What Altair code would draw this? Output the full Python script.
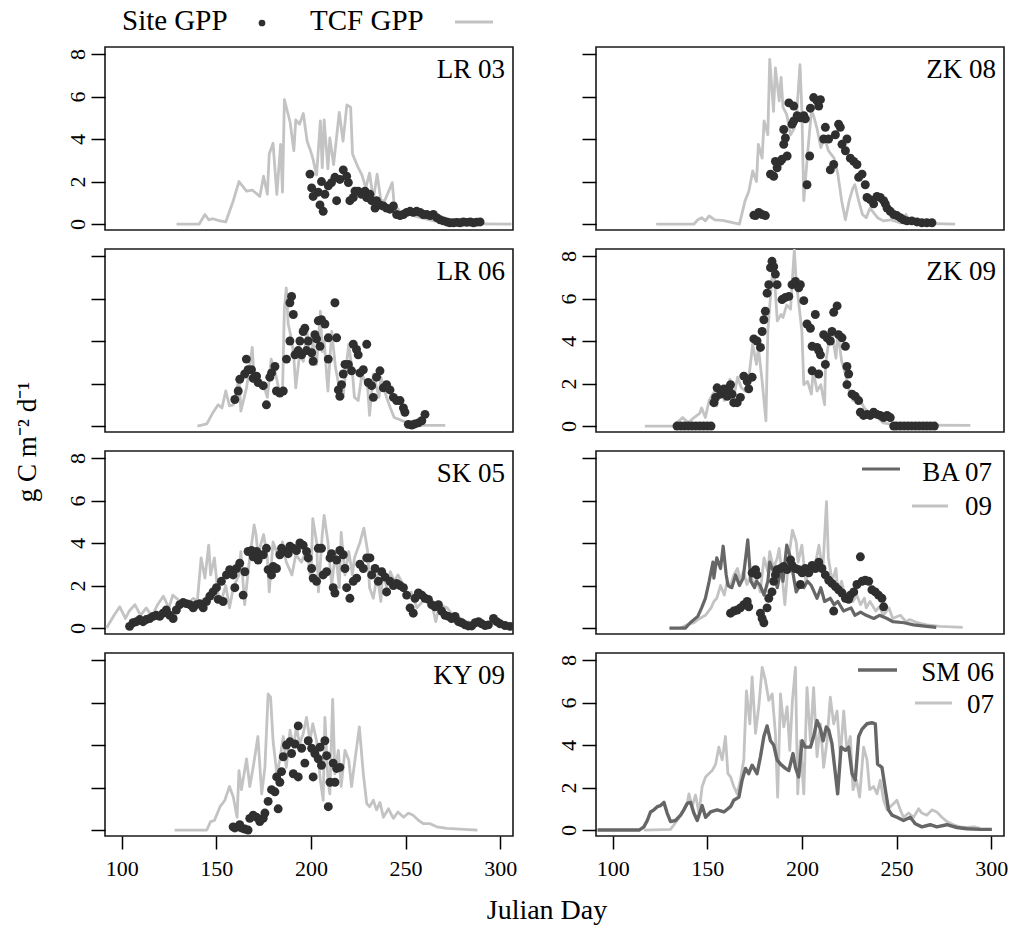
import altair as alt
import pandas as pd

FONT = "Liberation Serif"
W, H = 408, 183
XDOM = [91.2, 306.8]
YDOM = [-0.28, 8.33]
TCF_COLOR = "#c3c3c3"
DARK_LINE = "#666666"
PT_COLOR = "#2f2f2f"

# ---------------- data ----------------
LR03_TCF_DAY = [129,141,144,146,148,152,155,159,162,166,169,173,175,177,178,180,182,184,185,186,189,191,192,194,196,198,200,201,203,205,206,207,209,210,212,215,217,219,221,222,225,227,229,231,233,235,237,239,243,244,247,252,258,265,274,306]
LR03_TCF_GPP = [0,0,0.45,0.2,0.25,0.15,0.1,1.1,2.0,1.55,1.6,1.3,2.25,1.4,3.3,3.8,1.4,3.75,1.5,5.85,4.8,3.45,4.9,4.7,5.2,3.9,3.4,3.1,2.3,4.85,2.65,4.9,2.6,4.05,2.8,5.25,3.9,5.6,5.5,3.3,2.65,2.3,1.7,2.4,1.15,2.35,1.1,1.1,1.95,0.9,0.6,0.45,0.3,0.15,0.02,0]
LR03_SITE_DAY = [199.5,200.4,201.2,203.9,204.8,206.5,205.6,207.4,209.2,210.9,212.7,213.6,215.3,217.1,218.9,219.8,220.6,222.4,223.3,225,226.8,228.6,229.5,231.2,232.1,233.9,234.7,236.5,238.3,240,241.8,243.6,245.3,247.1,248.9,250.6,252.4,254.1,255.9,257.7,259.4,261.2,263,264.7,266.5,268.3,270,271.8,273.5,275.3,277.1,278.8,280.6,282.4,284.2,285.9,287.7,289.4]
LR03_SITE_GPP = [2.35,1.7,1.3,1.5,0.9,0.6,2.0,1.4,1.8,1.95,2.2,1.1,2.1,2.55,2.25,1.95,1.1,1.25,1.55,1.55,1.4,1.55,1.25,1.4,1.1,0.75,1.1,0.9,0.85,0.75,0.7,0.85,0.45,0.4,0.45,0.55,0.6,0.55,0.6,0.55,0.45,0.45,0.4,0.45,0.3,0.2,0.15,0.1,0.06,0.06,0.08,0.06,0.1,0.08,0.1,0.06,0.09,0.1]

ZK08_TCF_DAY = [123,143,145,147,149,151,154,158,167,170,172,174,176,177,179,180,182,183,185,186,188,189,190,192,194,196,197,199,200,201,203,205,206,208,210,212,214,217,219,221,223,225,227,228,230,232,234,236,240,243,247,252,255,257,281]
ZK08_TCF_GPP = [0,0,0.2,0.3,0.15,0.38,0.2,0.17,0,1.1,1.55,2.5,2.0,3.75,3.1,4.85,4.2,7.75,5.3,7.35,5.8,6.9,5.5,5.15,4.2,4.5,4.85,7.5,5.3,1.1,3.3,5.3,5.15,4.5,3.6,4.05,3.45,3.1,2.35,1.1,0.2,1.1,1.7,1.85,1.1,0.45,0.3,0.75,0.3,0.15,0.2,0.05,0.45,0.05,0]
ZK08_SITE_DAY = [174.6,175.5,177.2,179,180.7,183.4,185.1,186.9,186,188.6,189.5,192.2,190.4,191.3,190.4,193.1,195.7,194.8,195.7,197.5,199.2,201,201.8,202.7,204.1,204.5,206.2,208,209.8,208.9,211.5,212.4,214.1,215,216.8,217.7,219.4,220.3,221.2,223,223.8,225.6,227.4,229.1,230,231.8,233.5,234.4,236.1,237.9,239.7,241.4,243.2,244.1,245,246.7,248.5,250.2,252,253.7,255.5,258.1,260.8,263.4,266,268.7]
ZK08_SITE_GPP = [0.42,0.4,0.55,0.45,0.4,2.35,2.25,2.65,2.95,2.95,3.05,3.2,3.75,4.05,4.45,5.7,5.55,4.7,4.85,5.1,5.0,5.1,4.95,1.85,3.2,5.45,5.95,5.8,5.85,5.55,4.0,4.55,4.0,2.55,2.8,4.2,4.7,4.55,3.75,3.45,4.0,3.1,2.95,2.8,2.2,2.35,1.85,1.25,1.15,0.95,1.3,1.25,1.1,0.95,0.75,0.6,0.45,0.4,0.3,0.2,0.15,0.15,0.1,0.06,0.06,0.06]

LR06_TCF_DAY = [140,145,148,151,153,155,157,159,162,163,166,169,170,172,175,177,179,181,183,185,186,187,188,190,191,192,194,196,198,200,201,203,205,206,207,209,211,213,215,217,219,220,222,223,225,227,230,231,233,236,237,240,242,244,247,251,258,271]
LR06_TCF_GPP = [0,0.1,0.6,1.0,0.85,1.65,0.95,1.0,2.25,0.7,1.8,3.7,2.25,1.95,1.95,1.35,3.15,2.6,1.75,1.55,5.55,6.5,4.8,4.0,3.2,1.8,3.35,3.05,4.45,2.9,4.0,2.9,5.4,3.5,4.0,1.65,4.45,2.75,1.8,1.35,3.05,3.85,2.45,1.35,1.2,2.45,1.8,0.5,2.45,1.35,2.3,1.35,0.85,0.4,0.3,0.15,0.03,0.03]
LR06_SITE_DAY = [159.8,161.6,162.4,165,165.9,166.8,168.6,169.5,171.3,172.1,174.8,176.5,178.3,179.2,181,181.8,183.6,185.4,187.1,188.9,188.9,189.8,190.7,191.6,193.3,194.2,195.1,195.9,196.8,197.7,198.6,200.4,201.2,202.1,203,203.9,204.8,205.6,207.4,209.2,209.2,212.7,213.6,214.5,215.3,216.2,217.1,218,219.8,221.5,222.4,224.1,225,225.9,227.7,229.5,230.3,232.1,233,234.7,236.5,238.3,240,241.8,243.6,245.3,247.1,248.9,249.7,251.5,253.3,255,256.8,258.6,260.3]
LR06_SITE_GPP = [1.25,1.65,2.2,2.45,3.15,2.65,2.65,2.25,2.35,2.05,1.9,1.0,2.3,2.5,2.8,1.65,1.55,1.65,3.15,4.0,5.8,6.1,5.25,3.35,3.55,4.0,3.35,4.45,4.6,3.55,4.0,3.45,3.05,4.3,4.1,4.95,3.75,5.0,4.8,4.15,3.15,5.8,4.15,1.7,1.4,1.95,2.45,2.9,2.9,2.6,3.85,3.6,3.35,2.5,2.65,3.85,2.05,1.9,1.35,2.3,2.6,1.8,1.95,1.7,1.35,1.2,1.2,0.85,0.65,0.08,0.05,0.1,0.15,0.25,0.55]

ZK09_TCF_DAY = [117,132,137,140,143,146,147,149,151,154,155,157,159,161,162,164,166,168,170,172,174,176,177,179,181,182,184,185,187,189,190,192,194,196,197,198,200,201,203,205,206,208,210,212,212.5,214,216,218,219,221,223,225,227,230,233,236,240,243,249,289]
ZK09_TCF_GPP = [0,0,0.4,0.15,0.4,0.6,0.85,0.4,1.2,1.65,0.95,1.8,1.2,1.65,2.2,1.35,2.3,1.8,1.65,2.3,3.85,2.9,3.7,2.1,0.25,4.45,6.8,7.6,4.95,5.25,5.1,5.7,5.5,8.3,6.8,6.05,4.45,1.95,2.1,1.5,2.6,1.65,1.95,1.0,2.9,3.85,4.3,3.2,4.45,3.05,2.45,1.65,1.2,1.35,0.85,0.6,0.4,0.15,0.05,0.03]
ZK09_SITE_DAY = [134,136,138,140,142,144,146,148,150,152,153.5,154.4,155.2,157,157.9,158.8,160.5,161.4,162.3,163.1,164,165.8,167.5,169.3,171.1,171.9,173.7,174.6,176.3,178.1,179,179.9,180.7,181.6,182.5,183.4,184.2,185.1,186,186.9,189.5,191.3,193.1,194.8,196.6,198.3,199.2,201,202.7,204.5,205.4,207.1,208,208.9,209.8,205.4,208.9,212.4,211.5,213.3,215,215.9,216.8,218.6,219.4,221.2,223,223.8,224.7,223.8,226.5,228.2,230,230.9,232.6,234.4,236.1,237.9,239.7,241.4,243.2,245,246.7,248.5,250,252,254,256,258,260,262,264,266,268,270]
ZK09_SITE_GPP = [0,0,0,0,0,0,0,0,0,0,1.1,1.35,1.8,1.5,1.65,1.75,1.4,1.8,1.95,1.5,1.1,1.1,1.35,2.35,2.1,1.75,2.3,4.1,4.0,3.7,4.45,5.0,5.4,6.25,6.65,7.45,7.75,7.5,7.15,6.65,5.95,6.05,6.1,6.65,6.8,6.5,6.65,5.9,4.8,4.6,3.75,5.25,3.7,3.55,3.35,2.6,2.45,2.9,4.3,4.15,4.0,4.45,5.35,5.65,4.3,4.15,3.75,2.8,2.45,1.95,1.5,1.4,1.2,0.65,0.5,0.55,0.5,0.65,0.55,0.5,0.4,0.5,0.4,0,0,0,0,0,0,0,0,0,0,0,0]

SK05_TCF_DAY = [92,96,99,102,104,107,110,113,116,119,122,125,127,131,134,138,140,142,144,146,147,149,151,153,155,157,159,162,163,165,167,170,171,172,175,177,178,180,183,185,187,190,192,195,198,200,201,203,204,206,207,209,211,213,215,216,218,220,222,223,226,228,230,231,233,235,237,238,240,242,244,246,249,251,253,256,259,261,264,266,268,272,275,279,282,286,289,293,297,300,304,307]
SK05_TCF_GPP = [0,0.6,1.0,0.45,0.8,1.1,0.6,0.95,0.55,1.1,1.5,0.95,1.55,1.25,1.1,1.4,1.25,3.3,2.35,3.9,2.5,3.3,1.55,1.4,2.0,0.95,1.9,2.5,3.6,1.1,2.8,4.85,4.4,3.45,4.4,3.3,1.7,4.05,3.3,4.05,3.1,2.5,3.45,3.1,3.75,2.2,5.15,4.05,1.7,4.4,5.3,4.05,2.0,3.6,1.9,4.5,2.5,3.6,2.5,3.3,4.05,4.7,3.6,1.9,1.4,2.5,1.25,2.8,1.9,2.65,2.2,2.5,2.0,1.4,1.7,0.95,1.25,1.55,1.1,0.3,1.1,0.95,0.6,0.45,0.3,0.25,0.1,0.15,0.25,0.3,0.15,0.08]
SK05_SITE_DAY = [104.2,106,107.8,109.5,111.3,113,114.8,116.6,118.3,120.1,121.9,123.6,125.4,127.2,128.9,130.7,132.5,134.2,136,137.8,139.5,141.3,143.1,144.8,146.6,148.3,150.1,151,152.7,153.6,155.4,157.1,158.9,159.8,160.7,162.4,164.2,165.1,166.8,168.6,169.5,171.3,172.1,173,174.8,176.5,177.4,179.2,180.1,181.8,183.6,184.5,186.2,188,188.9,190.7,192.4,194.2,195.9,197.7,198.6,200.4,201.2,203,203.9,205.6,206.5,208.3,210.1,210.9,211.8,212.7,213.6,215.3,217.1,218,218.9,220.6,222.4,224.2,225.9,227.7,229.5,231.2,232.1,233.9,235.6,237.4,239.2,240,241.8,243.6,245.3,247.1,248.9,250.6,252.4,254.1,255,256.8,258.6,260.3,262.1,263.8,265.6,267.4,269.1,270.9,272.7,274.4,276.2,278,279.7,281.5,283.2,285,286.8,288.6,290.3,292.1,293.8,296.5,298.2,300,302.6,305.3]
SK05_SITE_GPP = [0.08,0.25,0.3,0.4,0.3,0.4,0.45,0.55,0.6,0.55,0.7,0.85,0.6,0.45,0.85,1.1,1.2,1.15,1.1,0.95,1.1,1.15,0.95,1.25,1.5,1.7,1.9,1.35,2.2,1.25,2.5,2.75,2.5,1.9,2.8,3.05,1.55,2.65,3.6,3.65,3.35,3.6,3.2,3.45,3.45,3.75,2.75,2.5,2.9,2.8,3.45,3.75,3.6,3.5,3.85,3.75,3.65,4.0,3.9,3.6,3.3,2.8,2.35,2.2,3.75,3.75,2.5,2.65,3.3,3.5,1.9,1.65,3.2,3.65,3.45,2.8,1.9,1.4,2.2,2.35,3.0,2.8,3.3,3.3,2.5,2.8,2.2,2.65,2.4,1.7,2.2,2.0,2.1,2.0,1.9,1.55,0.95,0.7,1.4,1.65,1.55,1.4,1.35,1.1,1.0,1.1,0.8,0.6,0.55,0.45,0.55,0.3,0.25,0.15,0.1,0.1,0.25,0.3,0.2,0.12,0.15,0.45,0.3,0.2,0.12,0.08]

BA07_TCF_DAY = [130,138.5,141,145,147,149,151,153,153.5,155,157,158.4,160,161,163,165,167,169,171.4,173,175,176,178,180,182,183,185,187,189,190,192,194,196,197,199,201,203,205,208,210,212,215,217,219,222,226,228,231,234,238,241,245,248,254,259,266,271]
BA07_TCF_GPP = [0,0,0.25,0.55,0.95,1.4,2.2,3.1,2.35,3.3,2.8,3.85,2.5,2.0,1.9,2.5,2.0,2.35,4.15,2.2,1.9,2.2,2.0,1.55,2.2,3.1,2.65,1.9,2.8,2.2,3.9,3.3,2.2,1.7,2.0,1.9,2.2,2.0,1.4,1.9,1.25,1.4,1.1,1.25,0.8,0.95,0.6,0.75,0.6,0.45,0.6,0.45,0.3,0.25,0.15,0.08,0.03]
BA09_TCF_DAY = [136,139,143,146,149,152,153.5,155,157,159,160.5,162,164,166,167.5,169,171,173,175,176,178,180,182,183,185,187,188,189.5,191,193,195,197,198,200,202,204,205,207,209,211,213,214,216,218,219,221,223,226,227,229,231,233,234,236,239,241,243,246,248,252,255,257,261,266,273,285]
BA09_TCF_GPP = [0,0.15,0.25,0.45,0.6,0.95,1.25,1.4,2.0,1.55,2.2,1.9,2.5,2.8,2.2,2.65,2.05,2.5,1.9,2.35,1.7,3.3,2.65,3.6,2.8,3.3,3.75,2.5,1.1,3.3,4.6,4.05,3.1,3.9,2.2,2.8,2.5,2.95,3.9,2.65,5.95,3.3,2.2,2.8,1.7,2.2,1.4,1.7,1.25,1.55,1.1,1.4,0.95,1.25,0.8,1.0,0.6,0.95,0.45,0.6,0.3,0.4,0.25,0.15,0.08,0.03]
BA_SITE_DAY = [162.3,164,165.8,167.5,169.3,171.1,171.9,173.7,175.5,176.3,178.1,179,179.9,181.6,182.5,184.2,185.1,186,186.9,188.7,190.4,192.2,194,194.8,196.6,198.3,199.2,200.1,201.8,203.6,205.4,207.1,208.9,210.6,212.4,214.2,215.9,216.8,217.7,219.4,221.2,223,224.7,225.6,227.4,229.1,230.9,231.8,233.5,235.3,237,238.8,240.5,242.3,243.2]
BA_SITE_GPP = [0.7,0.8,0.85,0.95,1.1,1.25,1.0,2.6,2.75,2.5,0.7,0.45,0.25,0.95,1.4,1.7,2.2,2.5,2.75,2.8,2.9,2.75,3.2,2.95,2.8,2.75,2.05,2.6,2.8,2.6,2.95,2.8,3.1,2.8,2.5,2.25,2.1,0.8,1.95,1.8,1.65,1.4,1.35,1.55,1.7,2.05,3.35,2.2,2.25,2.2,1.8,1.7,1.55,1.4,1.0]

KY09_TCF_DAY = [128,145,147,149,152,154.5,157,159,161,162,163.3,166,167.7,169.5,172,174,175.7,177.4,178.7,180,182,183.6,185.4,187,189,190.7,192.4,194,196,197.7,199.5,201,203,205,206.5,207.4,209,210,211.5,212.7,214.5,216,218,220,221.5,223.3,225.6,227.7,229.5,231,233,234.7,236.5,238.3,241,243.6,246,249,251.5,254,257,259.4,263,266.5,272,288]
KY09_TCF_GPP = [0,0,0.4,0.45,1.1,1.4,2.05,1.55,0.6,2.8,1.9,3.35,2.05,2.95,4.4,1.7,2.95,6.4,6.25,4.2,2.65,3.3,4.4,2.95,4.7,3.9,4.85,4.05,4.55,5.3,4.2,5.0,4.2,2.35,1.4,5.3,2.35,1.7,6.15,2.65,3.75,2.05,3.75,3.3,2.05,3.3,4.85,2.65,1.25,1.1,1.4,0.95,1.3,0.6,1.0,0.55,0.85,0.6,0.8,0.7,0.45,0.3,0.3,0.15,0.08,0]
KY09_SITE_DAY = [158.9,159.8,161.6,162.4,163.3,165.1,166.8,167.7,169.5,171.3,173,174.8,175.7,177.4,179.2,181,182.7,181.9,183.6,184.5,185.4,187.1,188.9,189.8,191.6,190.7,193.3,193.3,195.1,196.8,198.6,200.4,201.2,202.1,203.9,204.8,205.6,207.4,208.3,209.2,210.1,211.8,212.7,213.6,215.3]
KY09_SITE_GPP = [0.15,0.1,0.15,0.25,0.1,0.05,0,0.55,0.7,0.6,0.4,0.55,0.8,1.35,1.9,1.8,1.0,2.5,2.25,2.75,3.45,4.0,4.15,3.6,4.05,2.65,4.9,2.5,3.85,3.15,4.2,3.85,2.5,3.6,3.35,3.9,3.05,4.2,3.5,1.1,2.25,3.15,2.25,2.9,2.95]

SM06_TCF_DAY = [92,114,116.5,118.3,120,121.8,123.6,125.3,127.1,128.8,130.6,133.2,135.9,137.6,139.4,141.2,142.9,144.7,147.3,149.1,151.7,155.2,158.8,162.3,164,166.7,168.4,170.2,171.9,173.7,176.3,178.1,179.9,181.6,183.4,185.1,186.9,188.7,191.3,193.1,195.3,196.6,198.3,200.1,201.8,204.5,206.2,208,209.8,211.2,212.9,214.2,215.9,217.7,218.9,220.7,223,224.7,226.5,228.2,230,231.8,234.4,237,238.8,240,242.3,244.1,245.8,247.6,250.2,253.7,257.3,259.9,263.4,267.8,271.3,276.6,281.9,287.2,294.2,300.4]
SM06_TCF_GPP = [0,0,0.15,0.45,0.85,0.95,1.1,1.15,1.3,0.8,0.4,0.45,0.7,0.95,1.25,1.3,0.8,0.45,1.15,0.6,0.85,0.95,0.85,1.1,1.4,1.55,2.35,2.9,2.65,3.05,2.65,3.45,4.4,4.9,4.2,4.0,3.3,3.1,2.9,2.8,3.6,2.95,2.5,4.2,3.9,3.9,4.4,5.15,4.75,4.2,4.85,4.7,4.05,2.65,1.7,3.9,3.75,3.9,2.65,2.35,4.4,4.75,5.0,5.05,5.0,3.1,2.95,1.9,0.95,0.7,0.6,0.45,0.6,0.3,0.15,0.25,0.15,0.25,0.12,0.06,0.03,0.03]
SM07_TCF_DAY = [116.5,130.6,132.4,134.1,136.8,139.4,140.3,142,143.8,145.6,147.3,149.1,150.8,152.6,154.4,156.1,157.9,159.6,160.9,162.3,164,165.8,167.5,169.3,170.7,172.5,173.7,175.5,177.2,179,180.7,182.5,184.3,186,187.2,188.7,190.4,192.2,193.6,195,196.6,197.8,199.2,201,202.7,204.5,206.2,208,209.8,211.5,213.3,215,216.8,218.6,220.3,222.1,223.8,225.6,227,228.8,230.5,232.6,234.4,235.8,237.9,239.7,241.4,243.2,245,246.7,248.5,250.2,252,253.7,256.4,259,261.7,263.4,266,268.7,271.3,274,276.6,280.1,283.6,287.2,290.7,294.2]
SM07_TCF_GPP = [0,0.03,0.25,0.45,0.8,1.25,1.7,1.1,1.65,0.8,2.05,2.5,2.65,2.8,3.1,3.9,3.3,4.4,2.65,2.5,2.05,1.7,2.35,3.3,6.55,5.0,7.2,4.55,5.8,7.65,7.05,6.1,6.4,4.55,1.55,6.4,4.85,5.8,3.75,6.1,7.65,1.7,4.2,1.7,6.7,4.2,6.7,3.45,5.0,2.95,4.2,6.25,5.0,5.6,3.45,5.6,3.75,4.4,1.9,2.35,1.55,3.9,3.3,1.9,2.05,1.7,2.35,1.4,0.95,1.1,1.25,1.4,0.95,0.6,0.8,0.6,1.0,0.8,0.7,0.95,0.85,0.6,0.4,0.25,0.15,0.12,0.15,0.08]


def make_df(days, vals):
    return pd.DataFrame({"day": days, "gpp": vals})


def x_enc(show):
    if show:
        axis = alt.Axis(values=[100, 150, 200, 250, 300], domain=False, grid=False,
                        tickSize=13, tickColor="black", tickWidth=1.5,
                        labelFont=FONT, labelFontSize=22, labelColor="black",
                        labelPadding=9, title=None, labelFlush=False)
    else:
        axis = None
    return alt.X("day:Q", scale=alt.Scale(domain=XDOM, nice=False, zero=False), axis=axis)


def y_enc(labels):
    axis = alt.Axis(values=[0, 2, 4, 6, 8], domain=False, grid=False,
                    tickSize=14, tickColor="black", tickWidth=1.5,
                    labels=labels, labelAngle=270, labelAlign="center",
                    labelBaseline="bottom", labelFont=FONT, labelFontSize=22,
                    labelColor="black", labelPadding=2, title=None, labelFlush=False)
    return alt.Y("gpp:Q", scale=alt.Scale(domain=YDOM, nice=False, zero=False), axis=axis)


def one_row():
    return pd.DataFrame({"k": [0]})


def text_at(txt, x, y, size=27, align="right", angle=0):
    kw = dict(text=txt, font=FONT, fontSize=size, align=align,
              baseline="alphabetic", color="black")
    if angle:
        kw["angle"] = angle
    return alt.Chart(one_row()).mark_text(**kw).encode(x=alt.value(x), y=alt.value(y))


def rule_at(x1, x2, y, color, width):
    return alt.Chart(one_row()).mark_rule(color=color, strokeWidth=width).encode(
        x=alt.value(x1), x2=alt.value(x2), y=alt.value(y))


def panel(lines, site, ylabels, showx, extras):
    layers = []
    for days, vals, color, width in lines:
        layers.append(alt.Chart(make_df(days, vals)).mark_line(
            color=color, strokeWidth=width, clip=True, strokeJoin="round").encode(
            x=x_enc(showx), y=y_enc(ylabels)))
    if site is not None:
        layers.append(alt.Chart(make_df(*site)).mark_circle(
            color=PT_COLOR, size=80, opacity=1, clip=True).encode(
            x=x_enc(showx), y=y_enc(ylabels)))
    layers.extend(extras)
    return alt.layer(*layers).properties(width=W, height=H)


# top-left panel with the overall legend
p1 = panel([(LR03_TCF_DAY, LR03_TCF_GPP, TCF_COLOR, 2.8)], (LR03_SITE_DAY, LR03_SITE_GPP),
           True, False,
           [text_at("LR 03", W - 8, 31),
            text_at("Site GPP", 17, -17, size=29, align="left"),
            alt.Chart(one_row()).mark_circle(color=PT_COLOR, size=45, opacity=1).encode(
                x=alt.value(157), y=alt.value(-24)),
            text_at("TCF GPP", 205, -17, size=29, align="left"),
            rule_at(350, 388, -25, TCF_COLOR, 2.8)])

p2 = panel([(ZK08_TCF_DAY, ZK08_TCF_GPP, TCF_COLOR, 2.8)], (ZK08_SITE_DAY, ZK08_SITE_GPP),
           False, False, [text_at("ZK 08", W - 8, 31)])

p3 = panel([(LR06_TCF_DAY, LR06_TCF_GPP, TCF_COLOR, 2.8)], (LR06_SITE_DAY, LR06_SITE_GPP),
           False, False,
           [text_at("LR 06", W - 8, 31),
            text_at("g C m\u207b\u00b2 d\u207b\u00b9", -69, 193, size=27, align="center", angle=270)])

p4 = panel([(ZK09_TCF_DAY, ZK09_TCF_GPP, TCF_COLOR, 2.8)], (ZK09_SITE_DAY, ZK09_SITE_GPP),
           True, False, [text_at("ZK 09", W - 8, 31)])

p5 = panel([(SK05_TCF_DAY, SK05_TCF_GPP, TCF_COLOR, 2.8)], (SK05_SITE_DAY, SK05_SITE_GPP),
           True, False, [text_at("SK 05", W - 8, 31)])

p6 = panel([(BA09_TCF_DAY, BA09_TCF_GPP, TCF_COLOR, 2.8),
            (BA07_TCF_DAY, BA07_TCF_GPP, DARK_LINE, 3.2)], (BA_SITE_DAY, BA_SITE_GPP),
           False, False,
           [rule_at(266, 304, 18, DARK_LINE, 3.2), text_at("BA 07", W - 12, 30),
            rule_at(316, 352, 55, TCF_COLOR, 2.8), text_at("09", W - 12, 64)])

p7 = panel([(KY09_TCF_DAY, KY09_TCF_GPP, TCF_COLOR, 2.8)], (KY09_SITE_DAY, KY09_SITE_GPP),
           False, True,
           [text_at("KY 09", W - 8, 31),
            text_at("Julian Day", 442, H + 83, size=28, align="center")])

p8 = panel([(SM07_TCF_DAY, SM07_TCF_GPP, TCF_COLOR, 2.8),
            (SM06_TCF_DAY, SM06_TCF_GPP, DARK_LINE, 3.4)], None,
           True, True,
           [rule_at(262, 301, 17, DARK_LINE, 3.4), text_at("SM 06", W - 10, 28),
            rule_at(319, 356, 50, TCF_COLOR, 2.8), text_at("07", W - 10, 60)])

chart = alt.concat(p1, p2, p3, p4, p5, p6, p7, p8, columns=2,
                   spacing={"row": 19, "column": 83}, bounds="flush").properties(
    padding={"left": 13, "top": 6, "right": 5, "bottom": 5},
    background="white").configure_view(stroke="#1a1a1a", strokeWidth=1.6)

chart.save("out.html", embed_options={"renderer": "svg", "actions": False})
